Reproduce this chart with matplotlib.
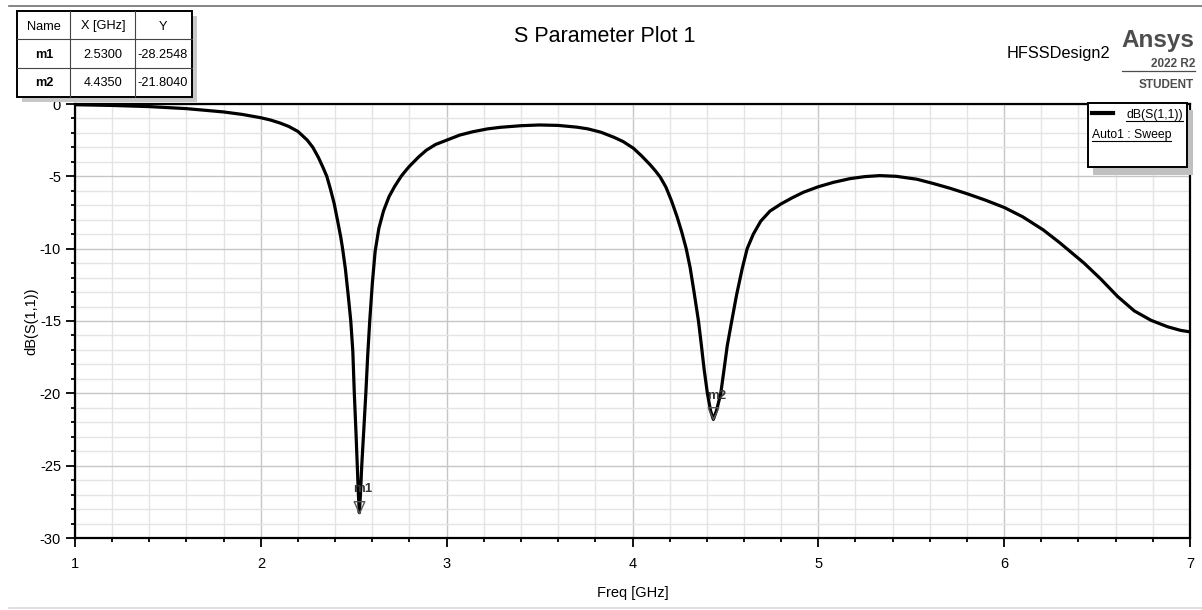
import numpy as np
import matplotlib.pyplot as plt
from matplotlib.patches import Rectangle
from matplotlib.path import Path

plt.rcParams['font.family'] = ['Liberation Sans', 'DejaVu Sans']
plt.rcParams['axes.unicode_minus'] = False

# trace
freq = [1.0, 1.2, 1.4, 1.6, 1.8, 1.9, 2.0, 2.05, 2.1, 2.15, 2.2, 2.25, 2.28, 2.31,
        2.335, 2.355, 2.375, 2.395, 2.415, 2.43, 2.44, 2.455, 2.47, 2.484, 2.495,
        2.503, 2.512, 2.519, 2.525, 2.53, 2.536, 2.543, 2.555, 2.565, 2.575,
        2.586, 2.60, 2.615, 2.635, 2.66, 2.69, 2.72, 2.755, 2.78, 2.80, 2.85,
        2.89, 2.94, 3.0, 3.07, 3.14, 3.22, 3.29, 3.4, 3.5, 3.6, 3.7, 3.76,
        3.83, 3.9, 3.95, 4.005, 4.05, 4.095, 4.125, 4.149, 4.18, 4.21, 4.24,
        4.265, 4.289, 4.31, 4.33, 4.355, 4.37, 4.385, 4.403, 4.42, 4.435,
        4.452, 4.475, 4.49, 4.51, 4.534, 4.56, 4.59, 4.617, 4.65, 4.69, 4.74,
        4.80, 4.86, 4.92, 5.0, 5.08, 5.17, 5.25, 5.33, 5.42, 5.53, 5.62, 5.71,
        5.8, 5.9, 6.0, 6.1, 6.21, 6.3, 6.43, 6.52, 6.61, 6.7, 6.79, 6.88,
        6.95, 7.0]
s11_db = [-0.05, -0.10, -0.18, -0.32, -0.55, -0.72, -0.95, -1.1, -1.3, -1.55, -1.9, -2.5, -3.0, -3.7,
          -4.4, -5.0, -5.9, -6.9, -8.2, -9.2, -10.0, -11.4, -13.2, -15.0, -17.1,
          -20.0, -22.7, -25.0, -27.0, -28.25, -27.0, -25.0, -22.3, -20.0, -17.4,
          -15.0, -12.4, -10.2, -8.6, -7.4, -6.4, -5.7, -5.0, -4.6, -4.3, -3.65,
          -3.2, -2.8, -2.5, -2.15, -1.92, -1.72, -1.61, -1.5, -1.45, -1.48, -1.6, -1.72,
          -1.95, -2.3, -2.6, -3.06, -3.6, -4.2, -4.65, -5.05, -5.75, -6.7, -7.8,
          -8.85, -10.0, -11.3, -12.9, -15.0, -16.6, -18.3, -20.0, -21.2, -21.8,
          -21.2, -20.0, -18.6, -16.7, -15.0, -13.2, -11.4, -10.0, -9.0, -8.1, -7.4,
          -6.9, -6.48, -6.1, -5.72, -5.42, -5.16, -5.02, -4.95, -5.0, -5.2, -5.5, -5.83,
          -6.2, -6.65, -7.15, -7.8, -8.7, -9.6, -11.0, -12.1, -13.3, -14.3, -14.95, -15.4,
          -15.65, -15.75]

marker_names = ['m1', 'm2']
marker_freq = [2.5300, 4.4350]
marker_db = [-28.2548, -21.8040]

trace_name = 'dB(S(1,1))'
sweep_name = 'Auto1 : Sweep'

W, H = 1202, 610
fig = plt.figure(figsize=(W / 100, H / 100), dpi=100)
ax = fig.add_axes([75 / W, 1 - 538 / H, (1190 - 75) / W, (538 - 104) / H])

ax.plot(freq, s11_db, color='black', lw=2.3, solid_joinstyle='round',
        solid_capstyle='round', zorder=3)

# marker triangles with the tip on the point
tri = Path([(-0.45, 1.0), (0.45, 1.0), (0.0, 0.0), (-0.45, 1.0)],
           [Path.MOVETO, Path.LINETO, Path.LINETO, Path.CLOSEPOLY])
ax.plot(marker_freq, marker_db, ls='none', marker=tri, ms=17, mfc='none',
        mec='#555555', mew=1.0, zorder=4)
for name, fx, fy in zip(marker_names, marker_freq, marker_db):
    ax.annotate(name, (fx, fy), xytext=(2.5, 12.5), textcoords='offset points',
                ha='center', va='bottom', fontsize=9.5, fontweight='bold',
                color='#333333', zorder=5)

ax.set_xlim(1, 7)
ax.set_ylim(-30, 0)
ax.set_xticks(range(1, 8))
ax.set_yticks(range(-30, 1, 5))
ax.set_xticks(np.arange(1, 7.001, 0.2), minor=True)
ax.set_yticks(range(-30, 1, 1), minor=True)
ax.grid(which='minor', color='#e4e4e4', lw=1.0, zorder=0)
ax.grid(which='major', color='#c6c6c6', lw=1.0, zorder=0)
ax.set_axisbelow(True)
ax.tick_params(which='major', direction='out', length=6.5, width=1.3,
               labelsize=10.5, color='black')
ax.tick_params(which='minor', direction='out', length=3, width=1.3, color='black')
ax.tick_params(axis='x', which='major', pad=7)
ax.tick_params(axis='y', which='major', pad=3.5)
for s in ax.spines.values():
    s.set_linewidth(1.6)
    s.set_color('black')

ax.set_xlabel('Freq [GHz]', fontsize=10.5, va='center')
ax.xaxis.set_label_coords(0.5, -55 / 434)
ax.set_ylabel('dB(S(1,1))', fontsize=10.5, va='center')
ax.yaxis.set_label_coords(-44 / 1115, 0.5)

# overlay in pixel coordinates for the HFSS decorations
ov = fig.add_axes([0, 0, 1, 1], zorder=10)
ov.set_xlim(0, W)
ov.set_ylim(H, 0)
ov.axis('off')
ov.patch.set_alpha(0)

ov.plot([9, W], [6, 6], color='#707070', lw=1.2)
ov.plot([9, W], [608, 608], color='#d8d8d8', lw=1.2)

ov.text(605, 42, 'S Parameter Plot 1', fontsize=15.5, ha='center', va='baseline')
ov.text(1110, 58, 'HFSSDesign2', fontsize=11.8, ha='right', va='baseline')
ov.text(1194, 47, 'Ansys', fontsize=17.5, fontweight='bold', color='#4d4d4d',
        ha='right', va='baseline')
ov.text(1195, 67, '2022 R2', fontsize=8.5, fontweight='bold', color='#4d4d4d',
        ha='right', va='baseline')
ov.plot([1122, 1195], [71, 71], color='#4d4d4d', lw=0.9)
ov.text(1194, 88, 'STUDENT', fontsize=8.5, fontweight='bold', color='#4d4d4d',
        ha='right', va='baseline')

# marker table
ov.add_patch(Rectangle((22, 16), 175, 86, facecolor='#c8c8c8', edgecolor='none'))
ov.add_patch(Rectangle((17, 11), 175, 86, facecolor='white', edgecolor='black', lw=1.4))
for xv in (70, 135):
    ov.plot([xv, xv], [11, 97], color='#444444', lw=0.8)
for yv in (39, 68):
    ov.plot([17, 192], [yv, yv], color='#444444', lw=0.8)
col_x = [44, 103, 163]
rows = [['Name', 'X [GHz]', 'Y']]
for name, fx, fy in zip(marker_names, marker_freq, marker_db):
    rows.append([name, f'{fx:.4f}', f'{fy:.4f}'])
row_y = [29.5, 57.5, 86.5]
for r, (cells, yv) in enumerate(zip(rows, row_y)):
    for c, (txt, xv) in enumerate(zip(cells, col_x)):
        ov.text(xv, yv, txt, fontsize=9.2, ha='center', va='baseline',
                fontweight='bold' if (r > 0 and c == 0) else 'normal')

# legend box
ov.add_patch(Rectangle((1093, 110), 100, 65, facecolor='#c0c0c0', edgecolor='none'))
ov.add_patch(Rectangle((1088, 103), 99, 64, facecolor='white', edgecolor='black', lw=1.4))
ov.plot([1092, 1113], [113, 113], color='black', lw=3)
ov.text(1183, 118, trace_name, fontsize=8.8, ha='right', va='baseline')
ov.plot([1126, 1183], [121, 121], color='black', lw=0.8)
ov.text(1092, 138, sweep_name, fontsize=8.8, ha='left', va='baseline')
ov.plot([1092, 1171], [141, 141], color='black', lw=0.8)

fig.savefig('out.png', dpi=100)
